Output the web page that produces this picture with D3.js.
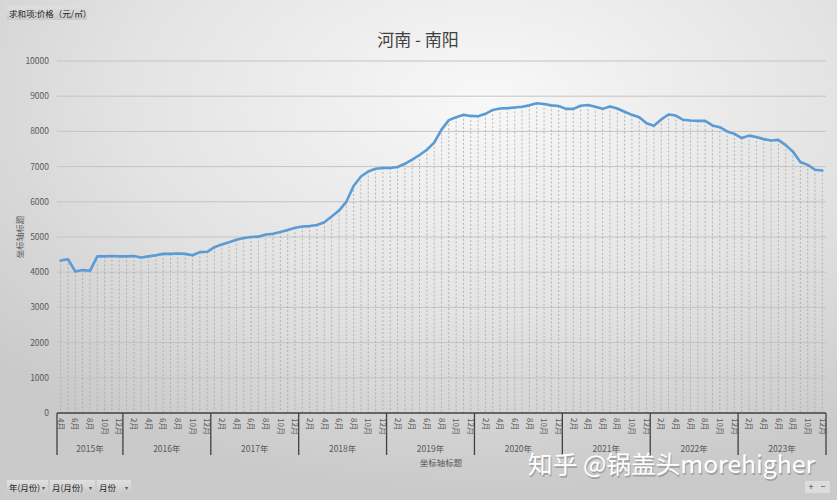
<!DOCTYPE html>
<html><head><meta charset="utf-8">
<script src="https://cdn.jsdelivr.net/npm/d3@7"></script>
<style>
html,body{margin:0;padding:0;background:#fff;}
svg{display:block;font-family:"Noto Sans CJK SC","Microsoft YaHei",sans-serif;}
</style></head>
<body><svg id="c" width="837" height="500"></svg>
<script>
// ---- data ----
const title = "河南 - 南阳";
const years = ["2015年","2016年","2017年","2018年","2019年","2020年","2021年","2022年","2023年"];
const firstMonth2015 = 4;
const yTicks = [0,1000,2000,3000,4000,5000,6000,7000,8000,9000,10000];
const prices = [
  // 2015 (4-12)
  4330,4370,4020,4060,4040,4450,4450,4460,4450,
  // 2016
  4450,4460,4420,4450,4480,4520,4520,4530,4520,4480,4570,4580,
  // 2017
  4710,4790,4850,4920,4970,5000,5010,5070,5090,5140,5200,5260,
  // 2018
  5300,5310,5340,5420,5580,5750,6000,6450,6720,6860,6940,6960,
  // 2019
  6960,6990,7080,7200,7330,7480,7680,8050,8320,8400,8470,8440,
  // 2020
  8430,8500,8610,8650,8660,8680,8700,8740,8800,8780,8740,8720,
  // 2021
  8640,8640,8730,8750,8700,8640,8710,8650,8560,8470,8400,8230,
  // 2022
  8160,8340,8480,8450,8330,8310,8300,8300,8170,8120,8000,7930,
  // 2023
  7810,7880,7840,7780,7740,7760,7610,7420,7130,7050,6910,6890
];

// ---- categories ----
const cats = [];
years.forEach((y, yi) => {
  const start = yi === 0 ? firstMonth2015 : 1;
  for (let m = start; m <= 12; m++) cats.push({year: y, yi, month: m + "月"});
});
cats.forEach((c, i) => { c.i = i; c.v = prices[i]; });

const svg = d3.select("#c");
const W = 837, H = 500;

// background
const defs = svg.append("defs");
const rg = defs.append("radialGradient").attr("id","bg")
  .attr("cx","58%").attr("cy","20%").attr("r","78%").attr("fx","58%").attr("fy","20%");
rg.append("stop").attr("offset","0%").attr("stop-color","#f8f8f8");
rg.append("stop").attr("offset","55%").attr("stop-color","#e3e3e3");
rg.append("stop").attr("offset","100%").attr("stop-color","#cacaca");
svg.append("rect").attr("width",W).attr("height",H).attr("fill","url(#bg)");

const x = d3.scaleBand().domain(cats.map(c => c.i)).range([57, 826]).padding(0);
const y = d3.scaleLinear().domain([0, 10000]).range([413, 61]);
const cx = i => x(i) + x.bandwidth() / 2;

// gridlines
svg.append("g").selectAll("line").data(yTicks.filter(t => t > 0)).join("line")
  .attr("x1", 57).attr("x2", 826)
  .attr("y1", d => y(d)).attr("y2", d => y(d))
  .attr("stroke", "#c4c4c4").attr("stroke-width", 1);

// y tick labels
svg.append("g").selectAll("text").data(yTicks).join("text")
  .attr("x", 49).attr("y", d => y(d)).attr("dy", "0.35em")
  .attr("text-anchor", "end").attr("font-size", 8.5).attr("fill", "#595959")
  .text(d => d);

// drop lines
svg.append("g").selectAll("line").data(cats).join("line")
  .attr("x1", d => cx(d.i)).attr("x2", d => cx(d.i))
  .attr("y1", d => y(d.v)).attr("y2", y(0))
  .attr("stroke", "#a8a8a8").attr("stroke-width", 0.8).attr("stroke-dasharray", "2,2");

// line
const line = d3.line().x(d => cx(d.i)).y(d => y(d.v));
svg.append("path").datum(cats).attr("d", line)
  .attr("fill", "none").attr("stroke", "#5b9bd5").attr("stroke-width", 2.6)
  .attr("stroke-linejoin", "round").attr("stroke-linecap", "round");

// x axis line
svg.append("line").attr("x1", 57).attr("x2", 826).attr("y1", y(0)).attr("y2", y(0))
  .attr("stroke", "#404040").attr("stroke-width", 1.5);

// year groups
const yearGroups = years.map((yr, yi) => {
  const items = cats.filter(c => c.yi === yi);
  return {yr, x0: x(items[0].i), x1: x(items[items.length - 1].i) + x.bandwidth()};
});
const bounds = [yearGroups[0].x0].concat(yearGroups.map(g => g.x1));
svg.append("g").selectAll("line").data(bounds).join("line")
  .attr("x1", d => d).attr("x2", d => d).attr("y1", y(0)).attr("y2", 455)
  .attr("stroke", "#404040").attr("stroke-width", 1.3);
svg.append("g").selectAll("text").data(yearGroups).join("text")
  .attr("x", d => (d.x0 + d.x1) / 2).attr("y", 452)
  .attr("text-anchor", "middle").attr("font-size", 8.5).attr("fill", "#595959")
  .text(d => d.yr);

// month labels (every other category)
svg.append("g").selectAll("text").data(cats.filter(c => c.i % 2 === 0)).join("text")
  .attr("transform", d => `translate(${cx(d.i)},418) rotate(90)`)
  .attr("text-anchor", "start").attr("dy", "0.35em")
  .attr("font-size", 8).attr("fill", "#595959")
  .text(d => d.month);

// axis titles
svg.append("text").attr("x", 441).attr("y", 466).attr("text-anchor", "middle")
  .attr("font-size", 8.5).attr("fill", "#595959").text("坐标轴标题");
svg.append("text").attr("transform", "translate(23,237) rotate(-90)")
  .attr("text-anchor", "middle").attr("font-size", 8.5).attr("fill", "#595959").text("坐标轴标题");

// title
svg.append("text").attr("x", 418).attr("y", 46).attr("text-anchor", "middle")
  .attr("font-size", 17).attr("fill", "#404040").text(title);

// field buttons
const btnGrad = defs.append("linearGradient").attr("id","btn").attr("x1",0).attr("y1",0).attr("x2",0).attr("y2",1);
btnGrad.append("stop").attr("offset","0%").attr("stop-color","#e0e0e0");
btnGrad.append("stop").attr("offset","100%").attr("stop-color","#c9c9c9");
svg.append("rect").attr("x", 7).attr("y", 6).attr("width", 80).attr("height", 14).attr("fill", "url(#btn)");
svg.append("text").attr("x", 9).attr("y", 16.5).attr("font-size", 8.5).attr("fill", "#222").text("求和项:价格（元/㎡）");

const bottomBtns = [{t:"年(月份)", x:7, w:41}, {t:"月(月份)", x:50, w:45}, {t:"月份", x:97, w:34}];
bottomBtns.forEach(b => {
  svg.append("rect").attr("x", b.x).attr("y", 480).attr("width", b.w).attr("height", 14).attr("fill", "url(#btn)");
  svg.append("text").attr("x", b.x + 2).attr("y", 490.5).attr("font-size", 8.5).attr("fill", "#222").text(b.t);
  svg.append("text").attr("x", b.x + b.w - 6).attr("y", 490).attr("font-size", 6).attr("fill", "#555").text("▾");
});
svg.append("rect").attr("x", 805).attr("y", 481).attr("width", 25).attr("height", 12).attr("fill", "#dcdcdc");
svg.append("text").attr("x", 811).attr("y", 490).attr("text-anchor", "middle").attr("font-size", 9).attr("fill", "#444").text("+");
svg.append("text").attr("x", 823).attr("y", 490).attr("text-anchor", "middle").attr("font-size", 9).attr("fill", "#444").text("−");

// watermark
const wm = svg.append("g");
wm.append("text").attr("x", 528).attr("y", 473).attr("font-size", 24)
  .attr("textLength", 287).attr("lengthAdjust", "spacingAndGlyphs")
  .attr("fill", "#555").attr("opacity", 0.35).attr("transform", "translate(1,1.5)")
  .text("知乎 @锅盖头morehigher");
wm.append("text").attr("x", 528).attr("y", 473).attr("font-size", 24)
  .attr("textLength", 287).attr("lengthAdjust", "spacingAndGlyphs")
  .attr("fill", "#ffffff").text("知乎 @锅盖头morehigher");
</script></body></html>
